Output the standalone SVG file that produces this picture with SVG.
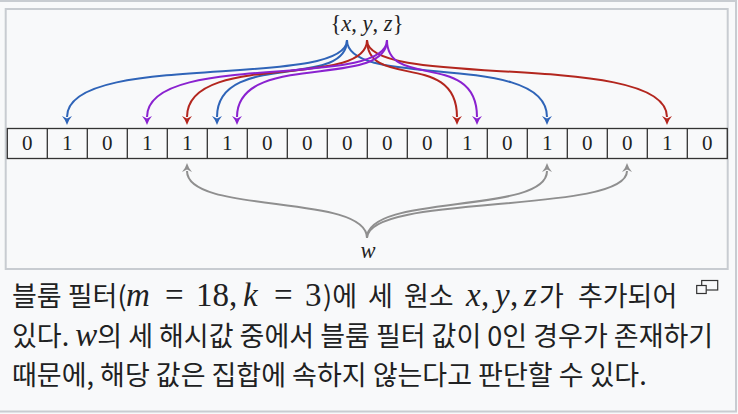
<svg xmlns="http://www.w3.org/2000/svg" width="738" height="414" viewBox="0 0 738 414">
<style>
.bg{fill:#f8f9fa}
.frame{fill:none;stroke:#c8ccd1;stroke-width:2}
.cell{fill:none;stroke:#333;stroke-width:1.3}
.bit{font-family:"Liberation Serif",serif;font-size:21px;fill:#222;text-anchor:middle}
.lbl{font-family:"Liberation Serif",serif;font-size:22.5px;fill:#222;text-anchor:middle}
.it{font-style:italic}
.c{fill:none;stroke-width:2}
.cap{font-family:"Noto Sans CJK KR","Noto Sans",sans-serif;font-size:27px;fill:#202122}
.m{font-family:"Liberation Serif",serif;font-size:33px}
.mi{font-family:"Liberation Serif",serif;font-size:33px;font-style:italic}
</style>
<defs>
<marker id="aB" markerUnits="userSpaceOnUse" orient="auto" markerWidth="20" markerHeight="20" refX="0" refY="0" overflow="visible"><path d="M8,0 Q3,-1.5 -1,-5 L1.5,0 L-1,5 Q3,1.5 8,0 Z" fill="#2f64b8"/></marker>
<marker id="aR" markerUnits="userSpaceOnUse" orient="auto" markerWidth="20" markerHeight="20" refX="0" refY="0" overflow="visible"><path d="M8,0 Q3,-1.5 -1,-5 L1.5,0 L-1,5 Q3,1.5 8,0 Z" fill="#b3261e"/></marker>
<marker id="aP" markerUnits="userSpaceOnUse" orient="auto" markerWidth="20" markerHeight="20" refX="0" refY="0" overflow="visible"><path d="M8,0 Q3,-1.5 -1,-5 L1.5,0 L-1,5 Q3,1.5 8,0 Z" fill="#8a22d0"/></marker>
<marker id="aG" markerUnits="userSpaceOnUse" orient="auto" markerWidth="20" markerHeight="20" refX="0" refY="0" overflow="visible"><path d="M8,0 Q3,-1.5 -1,-5 L1.5,0 L-1,5 Q3,1.5 8,0 Z" fill="#8f8f8f"/></marker>
</defs>
<rect class="bg" x="0" y="0" width="738" height="414"/>
<rect class="frame" x="-5" y="1" width="741" height="410.5"/>
<rect class="frame" x="5.7" y="9" width="722" height="260" stroke-width="1.6"/>

<g id="bits">
<rect class="cell" x="7.3" y="128.5" width="720" height="30"/>
<path class="cell" d="M47.3,128.5V158.5M87.3,128.5V158.5M127.3,128.5V158.5M167.3,128.5V158.5M207.3,128.5V158.5M247.3,128.5V158.5M287.3,128.5V158.5M327.3,128.5V158.5M367.3,128.5V158.5M407.3,128.5V158.5M447.3,128.5V158.5M487.3,128.5V158.5M527.3,128.5V158.5M567.3,128.5V158.5M607.3,128.5V158.5M647.3,128.5V158.5M687.3,128.5V158.5"/>
<text class="bit" x="27.3" y="150">0</text>
<text class="bit" x="67.3" y="150">1</text>
<text class="bit" x="107.3" y="150">0</text>
<text class="bit" x="147.3" y="150">1</text>
<text class="bit" x="187.3" y="150">1</text>
<text class="bit" x="227.3" y="150">1</text>
<text class="bit" x="267.3" y="150">0</text>
<text class="bit" x="307.3" y="150">0</text>
<text class="bit" x="347.3" y="150">0</text>
<text class="bit" x="387.3" y="150">0</text>
<text class="bit" x="427.3" y="150">0</text>
<text class="bit" x="467.3" y="150">1</text>
<text class="bit" x="507.3" y="150">0</text>
<text class="bit" x="547.3" y="150">1</text>
<text class="bit" x="587.3" y="150">0</text>
<text class="bit" x="627.3" y="150">0</text>
<text class="bit" x="667.3" y="150">1</text>
<text class="bit" x="707.3" y="150">0</text>
</g>

<g id="set">
<text class="lbl" x="367" y="31">{<tspan class="it">x</tspan>, <tspan class="it">y</tspan>, <tspan class="it">z</tspan>}</text>
</g>
<g id="w">
<text class="lbl it" x="368" y="258">w</text>
</g>

<g id="connectors">
<path class="c" stroke="#2f64b8" marker-end="url(#aB)" d="M347,40 C347,90 67,50 67,117"/>
<path class="c" stroke="#2f64b8" marker-end="url(#aB)" d="M347,40 C347,90 217,50 217,117"/>
<path class="c" stroke="#2f64b8" marker-end="url(#aB)" d="M347,40 C347,90 547,50 547,117"/>
<path class="c" stroke="#b3261e" marker-end="url(#aR)" d="M367,40 C367,90 187,50 187,117"/>
<path class="c" stroke="#b3261e" marker-end="url(#aR)" d="M367,40 C367,90 457,50 457,117"/>
<path class="c" stroke="#b3261e" marker-end="url(#aR)" d="M367,40 C367,90 667,50 667,117"/>
<path class="c" stroke="#8a22d0" marker-end="url(#aP)" d="M387,40 C387,90 147,50 147,117"/>
<path class="c" stroke="#8a22d0" marker-end="url(#aP)" d="M387,40 C387,90 237,50 237,117"/>
<path class="c" stroke="#8a22d0" marker-end="url(#aP)" d="M387,40 C387,90 477,50 477,117"/>
<path class="c" stroke="#8f8f8f" marker-end="url(#aG)" d="M367,238 C367,193 187,215 187,171"/>
<path class="c" stroke="#8f8f8f" marker-end="url(#aG)" d="M367,238 C367,193 547,215 547,171"/>
<path class="c" stroke="#8f8f8f" marker-end="url(#aG)" d="M367,238 C367,193 627,215 627,171"/>
</g>

<g id="caption">
<text class="cap" y="306"><tspan x="12">블룸 필터(</tspan><tspan class="mi" x="126">m</tspan><tspan class="m" x="165">=</tspan><tspan class="m" x="196 212.5 229">18,</tspan><tspan class="mi" x="243">k</tspan><tspan class="m" x="274">=</tspan><tspan class="m" x="305">3</tspan><tspan x="323" style="word-spacing:5px">)에 세 원소</tspan><tspan class="mi" x="466">x</tspan><tspan class="m" x="481">,</tspan><tspan class="mi" x="495">y</tspan><tspan class="m" x="510">,</tspan><tspan class="mi" x="524">z</tspan><tspan x="539" style="word-spacing:8px">가 추가되어</tspan></text>
<text class="cap" y="346"><tspan x="12">있다. </tspan><tspan class="mi">w</tspan><tspan>의 세 해시값 중에서 블룸 필터 값이 0인 경우가 존재하기</tspan></text>
<text class="cap" x="12" y="385">때문에, 해당 값은 집합에 속하지 않는다고 판단할 수 있다.</text>
<rect x="701.7" y="280.5" width="16" height="9.5" fill="none" stroke="#333" stroke-width="1.2"/>
<rect x="696.7" y="285.5" width="9.5" height="8" fill="#f8f9fa" stroke="#333" stroke-width="1.2"/>
</g>
</svg>
